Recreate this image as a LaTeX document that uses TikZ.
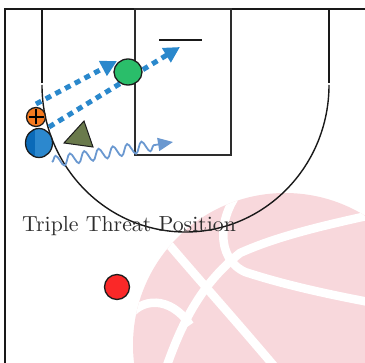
\documentclass[tikz,border=0pt]{standalone}
\usetikzlibrary{shapes.geometric,arrows.meta,decorations.pathmorphing}

\definecolor{ballpink}{RGB}{248,216,220}
\definecolor{courtline}{RGB}{25,25,25}
\definecolor{lanegray}{RGB}{45,45,45}
\definecolor{passblue}{RGB}{42,136,204}
\definecolor{dribbleblue}{RGB}{106,152,208}
\definecolor{handlerorange}{RGB}{245,122,32}
\definecolor{cutterblue}{RGB}{44,136,206}
\definecolor{cutterdark}{RGB}{10,106,184}
\definecolor{wingreen}{RGB}{42,190,106}
\definecolor{defolive}{RGB}{106,122,76}
\definecolor{postred}{RGB}{250,40,40}
\definecolor{labelgray}{RGB}{45,45,45}
\definecolor{outline}{RGB}{28,28,28}

\tikzset{
  seam/.style={draw=white, line width=8.5pt},
  courtstroke/.style={draw=courtline, line width=1.8pt},
  lanestroke/.style={draw=lanegray, line width=1.8pt},
  arcstroke/.style={draw=courtline, line width=1.4pt},
  player/.style={draw=outline, line width=1.3pt, inner sep=0pt},
  pass/.style={draw=passblue, line width=5pt, dash pattern=on 6pt off 5pt,
    -{Triangle[length=16pt,width=16pt]}},
  dribble/.style={draw=dribbleblue, line width=1.8pt,
    -{Triangle[length=15pt,width=13pt]},
    decorate, decoration={snake, amplitude=5.5pt, segment length=14.5pt, post length=16pt}},
  plusmark/.style={draw=black, line width=1.6pt},
  caption/.style={text=labelgray, inner sep=0pt, anchor=base west}
}

\begin{document}
\begin{tikzpicture}[x=1pt,y=-1pt]
\useasboundingbox (0,0) rectangle (365,363);

% faded basketball emblem in the lower right
\begin{scope}
  \clip (0,0) rectangle (365,363);
  \fill[ballpink] (285,345) circle[radius=152pt];
  \begin{scope}
    \clip (285,345) circle[radius=152pt];
    \draw[seam] (150,222) .. controls (190,270) and (240,325) .. (290,385);
    \draw[seam] (162,380) .. controls (180,325) and (200,285) .. (240,253)
                .. controls (280,235) and (330,224) .. (385,212);
    \draw[seam] (242,188) .. controls (218,215) and (215,258) .. (245,272)
                .. controls (285,285) and (330,295) .. (385,305);
    \draw[seam] (128,318) .. controls (140,298) and (170,295) .. (190,325);
  \end{scope}
\end{scope}

% half court: sideline, baseline, lane and three-point line
\draw[courtstroke] (5,363) -- (5,9) -- (365,9);
\draw[courtstroke] (42,9) -- (42,83);
\draw[courtstroke] (329,9) -- (329,83);
\draw[arcstroke] (42,85) arc[start angle=180, end angle=360, x radius=143.5pt, y radius=147pt];
\draw[lanestroke] (135,9) rectangle (231,155);
\draw[courtstroke] (159,40) -- (202,40);

% caption
\node[caption] (title) at (22,232)
  {\scalebox{2.18}{\fontsize{10}{12}\selectfont Triple Threat Position}};

% passing lanes and dribble drive
\coordinate (passAfrom) at (36,104);
\coordinate (passAto) at (117,61);
\coordinate (passBfrom) at (49,127);
\coordinate (passBto) at (180,47);
\coordinate (driveFrom) at (52,162);
\coordinate (driveTo) at (173,142);
\draw[pass] (passAfrom) -- (passAto);
\draw[pass] (passBfrom) -- (passBto);
\draw[dribble] (driveFrom) -- (driveTo);

% defender
\filldraw[fill=defolive, draw=outline, line width=1pt]
  (64,143) -- (84,121) -- (93,147) -- cycle;

% players
\node[player, ellipse, fill=cutterblue, minimum width=27pt, minimum height=29pt,
  path picture={\fill[cutterdark] (path picture bounding box.south west)
    rectangle ([xshift=-4.5pt]path picture bounding box.north);}]
  (cutter) at (39,143) {};
\node[player, circle, fill=handlerorange, minimum size=19pt] (handler) at (36,117) {};
\draw[plusmark] ([xshift=-7.5pt]handler.center) -- ([xshift=7.5pt]handler.center);
\draw[plusmark] ([yshift=-7.5pt]handler.center) -- ([yshift=7.5pt]handler.center);
\node[player, ellipse, fill=wingreen, minimum width=28pt, minimum height=26pt] (wing) at (128,72) {};
\node[player, circle, fill=postred, minimum size=25pt] (post) at (117,287) {};
\end{tikzpicture}
\end{document}
